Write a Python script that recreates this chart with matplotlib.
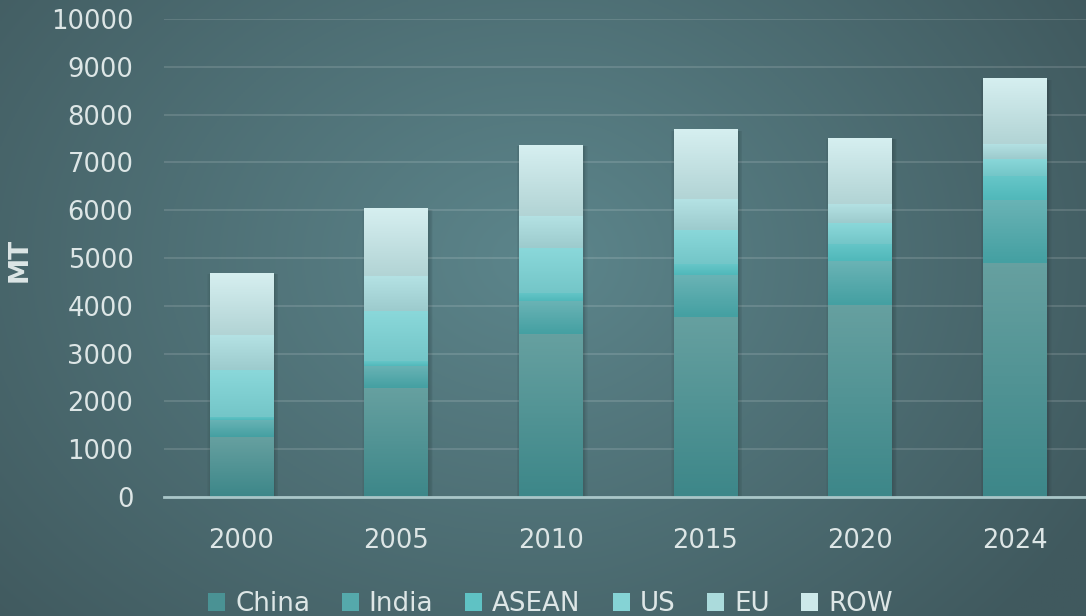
import numpy as np
import matplotlib
matplotlib.use('Agg')
import matplotlib.pyplot as plt
from matplotlib.colors import LinearSegmentedColormap
from matplotlib.patches import Patch

years = ['2000', '2005', '2010', '2015', '2020', '2024']
china = [1255, 2280, 3410, 3766, 4017, 4895]
india = [356, 461, 690, 878, 920, 1318]
asean = [63, 104, 168, 230, 356, 502]
us = [983, 1046, 941, 712, 439, 356]
eu = [732, 732, 670, 648, 398, 314]
row = [1297, 1402, 1485, 1444, 1380, 1360]
names = ['China', 'India', 'ASEAN', 'US', 'EU', 'ROW']
yticks = list(range(0, 10001, 1000))

# (top, bottom) gradient colours per segment, plus the flat legend colour
grads = [('#66a0a0', '#3d8789'), ('#6ab3b5', '#44a0a2'), ('#66c6c8', '#50b8ba'),
         ('#8ad8da', '#74c6c8'), ('#b4e2e4', '#9dcbcd'), ('#d6eff0', '#b2d4d5')]
leg_cols = ['#4a9294', '#55a9ab', '#5fc2c4', '#85d3d5', '#abdbdc', '#cde9ea']
txt = '#dde6e6'

fig = plt.figure(figsize=(10.86, 6.16), dpi=100)

# background: soft radial gradient
bg = fig.add_axes([0, 0, 1, 1], zorder=-10)
gy, gx = np.mgrid[0:1:300j, 0:1:500j]
d = np.sqrt(((gx - 0.5) * 1.3) ** 2 + (gy - 0.42) ** 2)
d = d + 0.25 * np.clip(gx - 0.55, 0, None)
d = np.clip(d / 0.9, 0, 1)
c_in = np.array([0x5c, 0x85, 0x8b]) / 255
c_out = np.array([0x40, 0x59, 0x5e]) / 255
img = c_in[None, None, :] * (1 - d[..., None]) + c_out[None, None, :] * d[..., None]
bg.imshow(img, aspect='auto', extent=[0, 1, 0, 1], origin='upper')
bg.axis('off')

ax = fig.add_axes([164 / 1086, 119 / 616, 928 / 1086, 478 / 616])
ax.set_facecolor('none')

x = np.arange(len(years))
w = 0.41
series = [china, india, asean, us, eu, row]
totals = np.sum(series, axis=0)

# soft shadow behind the stacks
for k in range(6):
    ax.bar(x + 0.01, totals, w + 0.01 * k, bottom=-30, color='black', alpha=0.028, zorder=2)

bottom = np.zeros(len(years))
grad = np.linspace(0, 1, 64).reshape(-1, 1)
for vals, (c_top, c_bot) in zip(series, grads):
    bars = ax.bar(x, vals, w, bottom=bottom, color=c_bot, zorder=3)
    cmap = LinearSegmentedColormap.from_list('seg', [c_bot, c_top])
    for b in bars:
        ax.imshow(grad, cmap=cmap, origin='lower', aspect='auto', zorder=4,
                  extent=[b.get_x(), b.get_x() + b.get_width(), b.get_y(), b.get_y() + b.get_height()])
    bottom += np.array(vals)

ax.set_xlim(-0.5, len(years) - 0.5)
ax.set_ylim(0, 10000)
ax.set_xticks(x)
ax.set_xticklabels(years)
ax.set_yticks(yticks)
ax.grid(axis='y', color='white', alpha=0.14, linewidth=1.3, zorder=1)
ax.set_axisbelow(True)
for s in ['top', 'right', 'left']:
    ax.spines[s].set_visible(False)
ax.spines['bottom'].set_color('#a9c6c8')
ax.spines['bottom'].set_linewidth(2)
ax.spines['bottom'].set_zorder(5)
ax.tick_params(axis='both', length=0, labelsize=18.5, colors=txt)
ax.tick_params(axis='y', pad=22)
ax.tick_params(axis='x', pad=22)

ax.set_ylabel('MT', fontsize=19, fontweight='bold', color=txt)
ax.yaxis.set_label_coords(-0.142, 0.496)

handles = [Patch(facecolor=c, edgecolor='none') for c in leg_cols]
fig.legend(handles, names, loc='lower center', bbox_to_anchor=(0.507, -0.04), ncol=6,
           frameon=False, fontsize=18.8, labelcolor=txt, handlelength=0.65, handleheight=0.65,
           handletextpad=0.38, columnspacing=1.22)

fig.savefig('out.png', dpi=100)
